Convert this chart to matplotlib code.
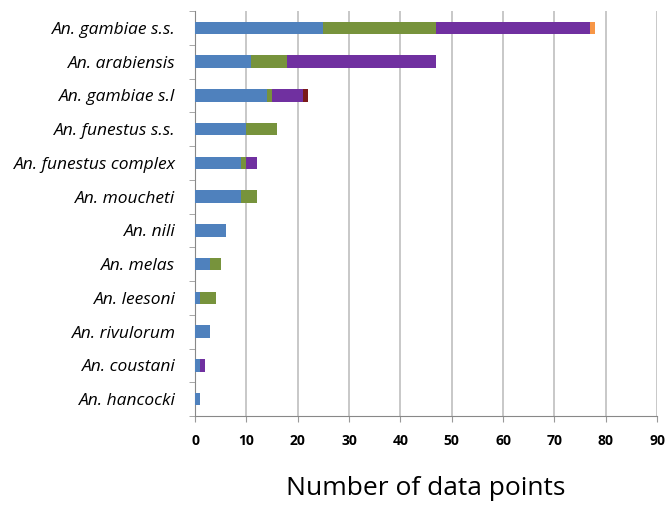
import numpy as np
import matplotlib
matplotlib.use('Agg')
import matplotlib.pyplot as plt

# species, top to bottom
species = ['An. gambiae s.s.', 'An. arabiensis', 'An. gambiae s.l', 'An. funestus s.s.',
           'An. funestus complex', 'An. moucheti', 'An. nili', 'An. melas',
           'An. leesoni', 'An. rivulorum', 'An. coustani', 'An. hancocki']

# stacked segments
blue   = [25, 11, 14, 10, 9, 9, 6, 3, 1, 3, 1, 1]
green  = [22, 7, 1, 6, 1, 3, 0, 2, 3, 0, 0, 0]
purple = [30, 29, 6, 0, 2, 0, 0, 0, 0, 0, 1, 0]
dred   = [0, 0, 1, 0, 0, 0, 0, 0, 0, 0, 0, 0]
orange = [1, 0, 0, 0, 0, 0, 0, 0, 0, 0, 0, 0]

series = [blue, green, purple, dred, orange]
colors = ['#4F81BD', '#77933C', '#7030A0', '#7B1A1A', '#F79646']

plt.rcParams['font.family'] = ['Open Sans', 'DejaVu Sans']

fig = plt.figure(figsize=(6.67, 5.09), dpi=100)
ax = fig.add_axes([195/667, 1 - 416/509, 462/667, 405/509])

y = np.arange(len(species))
left = np.zeros(len(species))
for vals, c in zip(series, colors):
    vals = np.array(vals, dtype=float)
    ax.barh(y, vals, left=left, height=0.37, color=c, zorder=3)
    left += vals

ax.set_ylim(len(species) - 0.5, -0.5)
ax.set_xlim(0, 90)
ax.set_xticks(np.arange(0, 91, 10))
ax.set_xticklabels([str(v) for v in range(0, 91, 10)], fontsize=10, fontweight='bold')
ax.xaxis.grid(True, color='#BFBFBF', linewidth=1.2, zorder=0)

ax.set_yticks(y)
ax.set_yticklabels(species, fontsize=12.5, style='italic')
ax.set_yticks(np.arange(-0.5, len(species), 1), minor=True)
ax.tick_params(axis='y', which='major', length=0, pad=14)
ax.tick_params(axis='y', which='minor', length=4, color='#999999')
ax.tick_params(axis='x', length=4, color='#999999', pad=9)

for s in ['top', 'right']:
    ax.spines[s].set_visible(False)
for s in ['left', 'bottom']:
    ax.spines[s].set_color('#888888')

ax.set_xlabel('Number of data points', fontsize=19, labelpad=20)

fig.savefig('out.png', dpi=100)
